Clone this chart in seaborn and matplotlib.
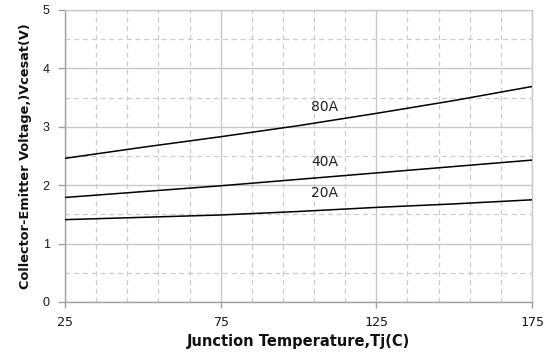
import numpy as np
import pandas as pd
import matplotlib
matplotlib.use("Agg")
import matplotlib.pyplot as plt
import seaborn as sns
from matplotlib.ticker import MultipleLocator, FixedLocator

temps = [25, 50, 75, 100, 125, 150, 175]
v_20a = [1.41, 1.45, 1.49, 1.55, 1.62, 1.68, 1.75]
v_40a = [1.79, 1.89, 1.99, 2.10, 2.21, 2.32, 2.43]
v_80a = [2.46, 2.65, 2.83, 3.02, 3.23, 3.45, 3.69]
series_names = ["20A", "40A", "80A"]
label_pos = {"80A": (108.5, 3.34), "40A": (108.5, 2.40), "20A": (108.5, 1.87)}
x_ticks = [25, 75, 125, 175]
y_ticks = [0, 1, 2, 3, 4, 5]

rows = []
for name, vals in zip(series_names, [v_20a, v_40a, v_80a]):
    for t, v in zip(temps, vals):
        rows.append({"Tj": t, "Vce": v, "Ic": name})
df = pd.DataFrame(rows)

sns.set_theme(style="white")
plt.rcParams['font.family'] = ['DejaVu Sans']

fig = plt.figure(figsize=(5.51, 3.54), dpi=100)
ax = fig.add_axes([65/551, 1-302/354, (532-65)/551, (302-10)/354])

sns.lineplot(data=df, x="Tj", y="Vce", hue="Ic", palette=["black"]*3,
             legend=False, linewidth=1.1, ax=ax, zorder=3)

ax.set_xlim(25, 175)
ax.set_ylim(0, 5)
ax.set_xticks(x_ticks)
ax.set_yticks(y_ticks)
ax.yaxis.set_minor_locator(MultipleLocator(0.5))
ax.xaxis.set_minor_locator(FixedLocator([t for t in range(35, 175, 10) if (t - 25) % 50 != 0]))

ax.grid(which="major", color="#c8c8c8", linewidth=1.0, linestyle="-", zorder=0)
ax.grid(which="minor", color="#cccccc", linewidth=0.9, linestyle=(0, (4, 3)), zorder=0)
ax.set_axisbelow(True)

for side in ["top", "right"]:
    ax.spines[side].set_color("#c8c8c8")
    ax.spines[side].set_linewidth(1.0)
for side in ["left", "bottom"]:
    ax.spines[side].set_color("#a0a0a0")
    ax.spines[side].set_linewidth(1.0)

ax.tick_params(axis="y", which="major", left=True, length=5, width=1, color="#a0a0a0",
               labelsize=9, pad=6, labelcolor="#1a1a1a")
ax.tick_params(axis="x", which="major", bottom=True, length=4, width=1, color="#a0a0a0",
               labelsize=9.5, pad=6, labelcolor="#1a1a1a")
ax.tick_params(which="minor", length=0)
for lbl in ax.get_xticklabels():
    lbl.set_fontfamily("DejaVu Sans Mono")
for lbl in ax.get_yticklabels():
    lbl.set_fontfamily("Liberation Sans")

ax.set_xlabel("Junction Temperature,Tj(C)", fontsize=10.5, fontweight="bold",
              labelpad=4, color="#111111", family="DejaVu Sans")
ax.set_ylabel("Collector-Emitter Voltage,)Vcesat(V)", fontsize=9.3, fontweight="bold",
              labelpad=8, color="#111111", family="DejaVu Sans")

for name, (tx, ty) in label_pos.items():
    ax.text(tx, ty, name, fontsize=10, color="#222222", ha="center", va="center",
            family="DejaVu Sans")

fig.savefig("out.png", dpi=100)
